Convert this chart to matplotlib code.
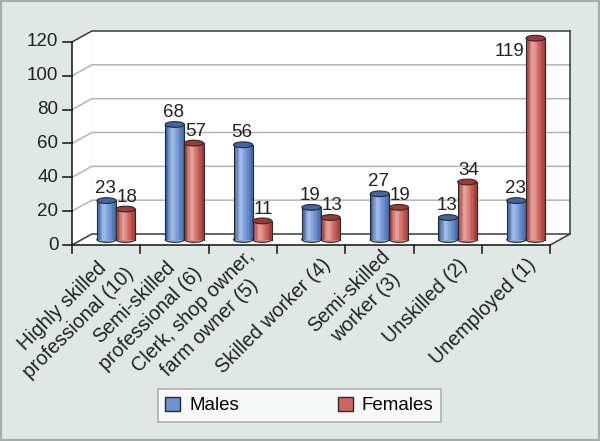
import matplotlib.pyplot as plt
import numpy as np
from matplotlib.patches import Rectangle, Ellipse, Polygon, Patch

plt.rcParams['font.family'] = ['Liberation Sans', 'DejaVu Sans']

categories = ['Highly skilled\nprofessional (10)', 'Semi-skilled\nprofessional (6)',
              'Clerk, shop owner,\nfarm owner (5)', 'Skilled worker (4)',
              'Semi-skilled\nworker (3)', 'Unskilled (2)', 'Unemployed (1)']
males = [23, 68, 56, 19, 27, 13, 23]
females = [18, 57, 11, 13, 19, 34, 119]
yticks = [0, 20, 40, 60, 80, 100, 120]

bg = '#dfe8e4'
blue_stops = ['#3a5e9f', '#a8c0ea', '#6f92d0', '#4468aa']
red_stops = ['#983632', '#eba7a2', '#cd6560', '#a33c38']
blue_top = '#4065a8'
red_top = '#9e3a36'

fig = plt.figure(figsize=(6, 4.41), dpi=100)
fig.patch.set_facecolor(bg)
fig.add_artist(Rectangle((0, 0), 1, 1, transform=fig.transFigure, fill=False,
                         edgecolor='#a6aeaa', linewidth=3))

ax = fig.add_axes([72 / 600, 1 - 245 / 441, 498 / 600, 214 / 441])
ax.axis('off')

n = len(categories)
dx, dy = 0.29, 6.5
ymax = 120
x0, x1 = -0.5, n - 0.5
ax.set_xlim(x0, x1 + dx)
ax.set_ylim(0, ymax + dy)

# walls and floor
ax.add_patch(Polygon([(x0 + dx, dy), (x1 + dx, dy), (x1 + dx, ymax + dy), (x0 + dx, ymax + dy)],
                     facecolor='white', edgecolor='none', zorder=0))
ax.add_patch(Polygon([(x0, 0), (x0 + dx, dy), (x0 + dx, ymax + dy), (x0, ymax)],
                     facecolor='white', edgecolor='none', zorder=0))
ax.add_patch(Polygon([(x0, 0), (x1, 0), (x1 + dx, dy), (x0 + dx, dy)],
                     facecolor='white', edgecolor='none', zorder=0))

for v in yticks:
    col = '#3a3a3a' if v in (0, ymax) else '#b4b4b4'
    ax.plot([x0, x0 + dx, x1 + dx], [v, v + dy, v + dy], color=col, lw=1.1,
            zorder=1, clip_on=False)
ax.plot([x1, x1 + dx, x1 + dx], [0, dy, ymax + dy], color='#3a3a3a', lw=1.1,
        zorder=1, clip_on=False)

# front axes
ax.plot([x0, x0], [0, ymax], color='#222222', lw=1.2, zorder=6, clip_on=False)
ax.plot([x0, x1], [0, 0], color='#222222', lw=1.2, zorder=6, clip_on=False)
for v in yticks:
    ax.plot([x0 - 0.13, x0], [v, v], color='#222222', lw=1.2, clip_on=False)
    ax.text(x0 - 0.2, v, str(v), ha='right', va='center', fontsize=13.5, color='#222222')
for i in range(n + 1):
    ax.plot([x0 + i, x0 + i], [0, -5], color='#222222', lw=1.2, clip_on=False)

for i, lab in enumerate(categories):
    ax.text(i + 0.24, -10, lab, rotation=45, ha='right', va='center',
            rotation_mode='anchor', multialignment='center', fontsize=14.2,
            color='#222222', linespacing=1.3)


def strip_colors(stops, k):
    t = np.linspace(0, 1, k)
    pos = [0, 0.35, 0.7, 1]
    rgb = np.array([plt.matplotlib.colors.to_rgb(c) for c in stops])
    return [tuple(np.interp(tt, pos, rgb[:, j]) for j in range(3)) for tt in t]


w = 0.28
eh = 3.4
k = 14


def cylinder(xl, base, top, stops, topc, z):
    cols = strip_colors(stops, k)
    sw = w / k
    ax.add_patch(Ellipse((xl + w / 2, base), w, eh, facecolor=cols[k // 2],
                         edgecolor='#2a2a2a', lw=0.8, zorder=z))
    for j, c in enumerate(cols):
        ax.add_patch(Rectangle((xl + j * sw, base), sw * 1.05, top - base,
                               facecolor=c, edgecolor='none', zorder=z + 0.1))
    ax.plot([xl, xl], [base, top], color='#2a2a2a', lw=0.8, zorder=z + 0.2)
    ax.plot([xl + w, xl + w], [base, top], color='#2a2a2a', lw=0.8, zorder=z + 0.2)
    ax.add_patch(Ellipse((xl + w / 2, top), w, eh, facecolor=topc,
                         edgecolor='#2a2a2a', lw=0.8, zorder=z + 0.3))


base = dy / 2
for i in range(n):
    c = i + dx / 2
    cylinder(c - w, base, males[i] + base, blue_stops, blue_top, 2 + i)
    cylinder(c, base, females[i] + base, red_stops, red_top, 2.5 + i)
    ax.text(c - w / 2 - 0.02, males[i] + base + eh / 2 + 0.3, str(males[i]), ha='center',
            va='bottom', fontsize=13.5, color='#222222', zorder=20)
    if females[i] + base + 12 > ymax + dy:
        ax.text(c - 0.02, females[i] + base - 3, str(females[i]), ha='right',
                va='top', fontsize=13.5, color='#222222', zorder=20)
    else:
        ax.text(c + w / 2 + 0.02, females[i] + base + eh / 2 + 0.3, str(females[i]),
                ha='center', va='bottom', fontsize=13.5, color='#222222', zorder=20)

handles = [Patch(facecolor='#6f92d0', edgecolor='#2a2a2a', label='Males'),
           Patch(facecolor='#cd6560', edgecolor='#2a2a2a', label='Females')]
leg = fig.legend(handles=handles, loc='lower left', ncol=2, mode='expand',
                 bbox_to_anchor=(158 / 600, 1 - 422 / 441, 283 / 600, 35 / 441),
                 fontsize=13.5, frameon=True, fancybox=False, handlelength=0.8,
                 handleheight=0.8, handletextpad=0.5, borderaxespad=0)
leg.get_frame().set_edgecolor('#a0a0a0')
leg.get_frame().set_linewidth(1.2)

fig.savefig('out.png', dpi=100, facecolor=bg)
